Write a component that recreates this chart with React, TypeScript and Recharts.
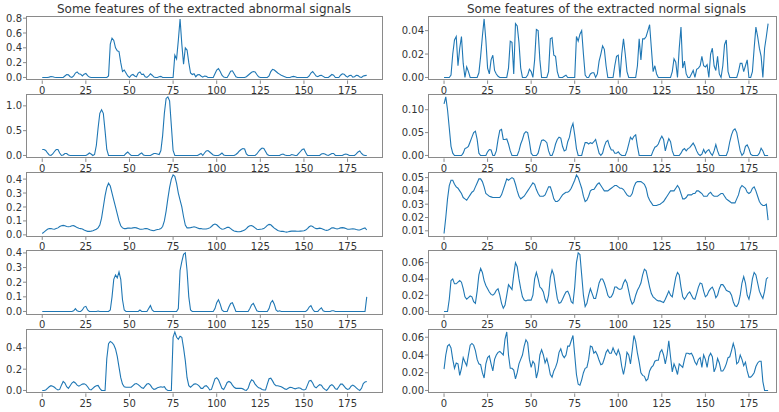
import React from 'react';
import { LineChart, Line, XAxis, YAxis, CartesianGrid } from 'recharts';

// ---------- data (feature index 0..186) ----------
const abnormal1 = [
  0,0,0,0,0.005,0.012,0.01,0.003,0,0,
  0,0,0,0.02,0.04,0.035,0.01,0,0.02,0.06,
  0.075,0.05,0.045,0.02,0.045,0.055,0.025,0.005,0,0,
  0,0,0,0,0,0,0,0,0.02,0.45,
  0.53,0.5,0.4,0.36,0.35,0.2,0.08,0.1,0.06,0.02,
  0,0.03,0.04,0.02,0.01,0.06,0.075,0.04,0.045,0.01,
  0,0.02,0.05,0.03,0.005,0,0,0.01,0.015,0,
  0,0,0,0,0,0,0.3,0.25,0.5,0.79,
  0.45,0.18,0.4,0.37,0.2,0.06,0.04,0.05,0.01,0.035,
  0.04,0.02,0.005,0.02,0.015,0,0,0,0,0.05,
  0.1,0.12,0.08,0.03,0.005,0,0,0.04,0.085,0.09,
  0.05,0.01,0,0,0,0,0,0.01,0.03,0.05,
  0.07,0.08,0.075,0.04,0.01,0,0,0,0,0,
  0.02,0.08,0.11,0.1,0.08,0.06,0.045,0.03,0.02,0.01,
  0,0,0,0.01,0.015,0.01,0,0,0,0,
  0,0,0,0.02,0.06,0.08,0.05,0.02,0.01,0.025,
  0.03,0.015,0,0,0,0.02,0.04,0.03,0,0,
  0,0.03,0.05,0.045,0.02,0.005,0.025,0.03,0.005,0.01,
  0.03,0.025,0.005,0,0.02,0.025,0.03,
];
const abnormal2 = [
  0.12,0.12,0.1,0.05,0.01,0,0.03,0.08,0.12,0.12,
  0.05,0,0.01,0.04,0.04,0.01,0,0,0,0,
  0,0,0,0,0,0,0.02,0.05,0.03,0,
  0.02,0.2,0.55,0.85,0.92,0.85,0.5,0.12,0,0,
  0,0,0,0,0,0,0,0,0.04,0.07,
  0.03,0,0,0,0,0,0.03,0.05,0.01,0,
  0,0,0,0.02,0.04,0.04,0.03,0.02,0.1,0.4,
  0.85,1.15,1.18,1.1,0.6,0.1,0,0,0,0,
  0,0,0,0,0,0,0,0,0,0,
  0.02,0.04,0,0.05,0.09,0.1,0.07,0.04,0.01,0,
  0,0,0.02,0.05,0.01,0,0,0,0,0,
  0,0.02,0.05,0.09,0.12,0.14,0.13,0.03,0,0,
  0,0,0,0.03,0.08,0.12,0.15,0.14,0.08,0.02,
  0,0,0,0,0,0,0,0.02,0.03,0.01,
  0,0,0,0.02,0.01,0,0,0.04,0.08,0.12,
  0.13,0.06,0,0,0,0,0,0,0,0,
  0.03,0.04,0.03,0.01,0,0.02,0.04,0.04,0,0,
  0,0,0,0.02,0.03,0.02,0,0,0,0,
  0.03,0.07,0.09,0.04,0.01,0,0,
];
const abnormal3 = [
  0.01,0.02,0.03,0.04,0.045,0.045,0.042,0.04,0.045,0.05,
  0.06,0.065,0.068,0.065,0.06,0.058,0.06,0.065,0.066,0.06,
  0.052,0.047,0.045,0.042,0.035,0.03,0.025,0.025,0.027,0.03,
  0.035,0.04,0.05,0.07,0.12,0.2,0.28,0.34,0.37,0.35,
  0.3,0.25,0.2,0.15,0.1,0.065,0.05,0.045,0.045,0.048,
  0.048,0.047,0.05,0.053,0.05,0.045,0.04,0.04,0.042,0.045,
  0.045,0.04,0.035,0.032,0.03,0.035,0.038,0.04,0.045,0.06,
  0.1,0.17,0.26,0.34,0.4,0.43,0.42,0.37,0.3,0.25,
  0.2,0.13,0.07,0.05,0.05,0.052,0.055,0.058,0.055,0.05,
  0.045,0.045,0.042,0.042,0.042,0.045,0.05,0.06,0.072,0.078,
  0.072,0.06,0.048,0.04,0.042,0.048,0.055,0.054,0.045,0.035,
  0.028,0.025,0.022,0.022,0.025,0.03,0.035,0.045,0.058,0.065,
  0.067,0.06,0.05,0.04,0.038,0.04,0.042,0.045,0.055,0.068,
  0.075,0.072,0.06,0.048,0.04,0.032,0.028,0.025,0.025,0.022,
  0.02,0.022,0.025,0.027,0.028,0.027,0.026,0.026,0.027,0.028,
  0.03,0.035,0.045,0.058,0.065,0.06,0.05,0.045,0.045,0.048,
  0.045,0.04,0.035,0.032,0.035,0.042,0.05,0.05,0.045,0.042,
  0.045,0.05,0.052,0.05,0.045,0.04,0.04,0.042,0.043,0.042,
  0.038,0.035,0.035,0.04,0.045,0.05,0.035,
];
const abnormal4 = [
  0,0,0,0,0,0,0,0,0,0,
  0,0,0,0,0,0,0,0,0.005,0.02,
  0.005,0,0,0.01,0.03,0.035,0.01,0,0,0,
  0,0,0.003,0,0,0,0,0,0,0.01,
  0.1,0.22,0.25,0.23,0.27,0.22,0.08,0.01,0,0,
  0,0,0,0,0,0,0.01,0,0,0,
  0,0.02,0.04,0.01,0,0,0,0,0,0,
  0,0,0,0,0,0,0,0,0.02,0.28,
  0.34,0.39,0.4,0.28,0.1,0.01,0,0,0,0,
  0,0,0,0,0,0,0,0,0,0.02,
  0.06,0.08,0.05,0.01,0,0,0,0.03,0.055,0.06,
  0.03,0,0,0,0,0,0,0,0,0.02,
  0.045,0.055,0.03,0.005,0,0,0,0,0,0,
  0.02,0.06,0.075,0.05,0.01,0,0.005,0,0,0,
  0,0,0,0,0,0,0,0,0,0,
  0,0,0.01,0.03,0.04,0.015,0,0,0,0.015,
  0.025,0.005,0,0,0,0,0.005,0.005,0,0,
  0,0,0,0,0,0,0,0,0,0,
  0,0,0,0,0,0,0.1,
];
const abnormal5 = [
  0,0,0.005,0.02,0.035,0.045,0.04,0.03,0.015,0.005,
  0.01,0.05,0.085,0.07,0.035,0.02,0.045,0.07,0.082,0.07,
  0.05,0.04,0.05,0.06,0.062,0.055,0.035,0.01,0.005,0.02,
  0.035,0.045,0.048,0.02,0,0,0,0.3,0.44,0.46,
  0.45,0.43,0.39,0.32,0.22,0.12,0.06,0.035,0.03,0.03,
  0.03,0.03,0.045,0.06,0.065,0.055,0.04,0.025,0.02,0.04,
  0.06,0.065,0.05,0.025,0.01,0.015,0.025,0.03,0.035,0.03,
  0.035,0.01,0,0,0,0.5,0.55,0.5,0.48,0.51,
  0.5,0.4,0.28,0.12,0.045,0.03,0.045,0.06,0.062,0.055,
  0.04,0.02,0.02,0.04,0.045,0.03,0.005,0.01,0.06,0.11,
  0.12,0.1,0.06,0.02,0.01,0.04,0.075,0.085,0.075,0.05,
  0.03,0.02,0.02,0.02,0.02,0.015,0.005,0,0.02,0.07,
  0.1,0.09,0.06,0.04,0.025,0.02,0.01,0.005,0.005,0.06,
  0.11,0.115,0.09,0.06,0.045,0.045,0.04,0.035,0.025,0.015,
  0.01,0.02,0.03,0.028,0.02,0.015,0.02,0.025,0.02,0.01,
  0.005,0.01,0.05,0.09,0.095,0.07,0.035,0.025,0.04,0.055,
  0.05,0.025,0.01,0,0.02,0.045,0.055,0.04,0.015,0.01,
  0.035,0.06,0.06,0.04,0.02,0.01,0.015,0.04,0.05,0.04,
  0.025,0.01,0,0.02,0.065,0.08,0.085,
];
const normal1 = [
  0,0,0,0,0.002,0.02,0.032,0.035,0.01,0.025,
  0.035,0.012,0,0.009,0.005,0,0,0,0,0,
  0.004,0.018,0.035,0.05,0.032,0.008,0.003,0.015,0.019,0.006,
  0.003,0.001,0,0,0,0,0,0.008,0.031,0.03,
  0.003,0.046,0.044,0.03,0.008,0,0,0,0.002,0.007,
  0.005,0,0.015,0.041,0.04,0.015,0,0,0,0,
  0.005,0.033,0.034,0.019,0.018,0.005,0,0,0,0.001,
  0.002,0,0,0,0,0,0.035,0.031,0.037,0.04,
  0.02,0.002,0,0,0.003,0.004,0.004,0,0.003,0.014,
  0.02,0.027,0.024,0.01,0,0,0,0,0.01,0.018,
  0.019,0,0.02,0.033,0.02,0.005,0,0,0,0,
  0,0.01,0.033,0.015,0.033,0.033,0.035,0.04,0.045,0.025,
  0.005,0.01,0.003,0,0,0,0,0,0,0,
  0,0.005,0.016,0.013,0,0.025,0.043,0.008,0.014,0.003,
  0,0,0.003,0.006,0,0.007,0.008,0.01,0.018,0.01,
  0.009,0.011,0,0.02,0.025,0.01,0.006,0.018,0.003,0,
  0.01,0.028,0.032,0.005,0,0,0,0,0,0.005,
  0.012,0.012,0.005,0.01,0.015,0,0,0.005,0.025,0.043,
  0.035,0.025,0.018,0,0.025,0.035,0.046,
];
const normal2 = [
  0.113,0.128,0.1,0.06,0.02,0.005,0,0,0,0,
  0,0.005,0.015,0.017,0.02,0.03,0.04,0.05,0.053,0.035,
  0.005,0,0,0,0,0.008,0.013,0.012,0,0,
  0.01,0.035,0.055,0.057,0.035,0.035,0.036,0.025,0.01,0,
  0,0,0,0.01,0.025,0.035,0.048,0.052,0.05,0.03,
  0.005,0,0,0,0.005,0.02,0.033,0.034,0.032,0.028,
  0.01,0,0,0.01,0.025,0.035,0.04,0.038,0.02,0.01,
  0.012,0.03,0.04,0.06,0.07,0.045,0.015,0,0,0,
  0.015,0.028,0.028,0.025,0.028,0.026,0.03,0.035,0.02,0.005,
  0,0.005,0.02,0.03,0.033,0.02,0.012,0.012,0.005,0.005,
  0.008,0.003,0,0,0,0.01,0.025,0.04,0.035,0.042,
  0.045,0.02,0,0,0,0,0,0,0,0,
  0.01,0.018,0.02,0.025,0.035,0.042,0.035,0.01,0.025,0.037,
  0.03,0.01,0,0,0,0,0.005,0.012,0.015,0.01,
  0.015,0.017,0.022,0.027,0.02,0.01,0.003,0,0.003,0.013,
  0.005,0.01,0.013,0.005,0,0.01,0.024,0.01,0,0,
  0,0,0,0.01,0.03,0.045,0.055,0.058,0.05,0.03,
  0.01,0,0.005,0.02,0.023,0.015,0.003,0,0,0,
  0,0.005,0.016,0.01,0,0,0,
];
const normal3 = [
  0.008,0.02,0.034,0.044,0.048,0.048,0.045,0.043,0.042,0.04,
  0.038,0.035,0.034,0.033,0.035,0.037,0.039,0.04,0.043,0.046,
  0.049,0.049,0.047,0.043,0.038,0.037,0.036,0.0355,0.035,0.035,
  0.035,0.035,0.035,0.037,0.041,0.045,0.049,0.048,0.049,0.05,
  0.049,0.045,0.04,0.036,0.034,0.035,0.036,0.038,0.04,0.042,
  0.044,0.046,0.045,0.041,0.038,0.036,0.036,0.036,0.037,0.04,
  0.043,0.043,0.039,0.034,0.032,0.032,0.033,0.035,0.037,0.038,
  0.039,0.039,0.04,0.042,0.045,0.048,0.052,0.05,0.046,0.042,
  0.036,0.032,0.033,0.036,0.04,0.041,0.041,0.043,0.045,0.046,
  0.044,0.042,0.04,0.04,0.04,0.041,0.042,0.043,0.044,0.044,
  0.043,0.042,0.042,0.041,0.039,0.037,0.036,0.036,0.038,0.043,
  0.046,0.047,0.047,0.047,0.046,0.045,0.042,0.036,0.033,0.031,
  0.029,0.029,0.029,0.0295,0.03,0.031,0.032,0.034,0.036,0.038,
  0.04,0.04,0.04,0.042,0.044,0.042,0.038,0.034,0.034,0.035,
  0.037,0.037,0.037,0.038,0.038,0.04,0.04,0.039,0.038,0.036,
  0.036,0.036,0.038,0.039,0.037,0.036,0.036,0.036,0.037,0.038,
  0.038,0.036,0.034,0.033,0.032,0.031,0.031,0.031,0.034,0.037,
  0.042,0.044,0.043,0.042,0.039,0.038,0.039,0.042,0.043,0.04,
  0.036,0.032,0.03,0.029,0.029,0.03,0.018,
];
const normal4 = [
  0,0,0,0.015,0.038,0.04,0.034,0.034,0.036,0.038,
  0.036,0.028,0.018,0.015,0.017,0.019,0.018,0.012,0.01,0.025,
  0.045,0.053,0.048,0.038,0.032,0.028,0.024,0.021,0.02,0.022,
  0.026,0.028,0.02,0.01,0.004,0.008,0.02,0.033,0.03,0.027,
  0.045,0.06,0.055,0.04,0.028,0.018,0.014,0.013,0.014,0.014,
  0.014,0.02,0.04,0.048,0.04,0.03,0.028,0.024,0.015,0.011,
  0.02,0.042,0.051,0.045,0.03,0.016,0.01,0.011,0.015,0.02,
  0.024,0.025,0.02,0.012,0.01,0.03,0.06,0.072,0.07,0.045,
  0.02,0.006,0.01,0.02,0.028,0.022,0.016,0.016,0.025,0.035,
  0.04,0.04,0.035,0.028,0.02,0.017,0.018,0.022,0.03,0.03,
  0.028,0.027,0.028,0.035,0.039,0.035,0.025,0.015,0.009,0.012,
  0.02,0.026,0.03,0.035,0.045,0.052,0.05,0.04,0.03,0.022,
  0.018,0.016,0.014,0.013,0.013,0.012,0.011,0.015,0.02,0.025,
  0.02,0.018,0.03,0.042,0.048,0.045,0.03,0.018,0.015,0.018,
  0.022,0.024,0.02,0.016,0.015,0.022,0.03,0.035,0.034,0.025,
  0.018,0.02,0.025,0.028,0.03,0.025,0.017,0.02,0.028,0.033,
  0.033,0.03,0.026,0.025,0.024,0.02,0.012,0.007,0.006,0.01,
  0.02,0.035,0.043,0.035,0.02,0.015,0.025,0.04,0.048,0.045,
  0.035,0.025,0.02,0.016,0.025,0.04,0.042,
];
const normal5 = [
  0.024,0.04,0.05,0.052,0.048,0.035,0.025,0.031,0.03,0.017,
  0.025,0.037,0.032,0.028,0.04,0.051,0.053,0.051,0.045,0.035,
  0.03,0.029,0.02,0.014,0.03,0.037,0.039,0.03,0.022,0.035,
  0.04,0.043,0.044,0.042,0.04,0.058,0.066,0.04,0.025,0.025,
  0.023,0.013,0.02,0.03,0.035,0.04,0.05,0.057,0.054,0.035,
  0.026,0.033,0.03,0.014,0.022,0.04,0.046,0.04,0.031,0.036,
  0.028,0.018,0.015,0.022,0.026,0.032,0.043,0.047,0.04,0.037,
  0.04,0.05,0.05,0.056,0.062,0.04,0.018,0.007,0.006,0.012,
  0.02,0.025,0.026,0.035,0.05,0.049,0.042,0.044,0.04,0.034,
  0.029,0.03,0.036,0.043,0.046,0.042,0.042,0.048,0.043,0.04,
  0.046,0.04,0.027,0.018,0.028,0.043,0.04,0.03,0.045,0.062,
  0.055,0.042,0.032,0.02,0.017,0.016,0.011,0.013,0.022,0.026,
  0.028,0.033,0.034,0.034,0.043,0.046,0.04,0.03,0.04,0.056,
  0.038,0.021,0.03,0.025,0.018,0.03,0.028,0.026,0.035,0.042,
  0.042,0.041,0.042,0.038,0.032,0.029,0.035,0.037,0.026,0.04,
  0.035,0.026,0.038,0.042,0.038,0.021,0.026,0.036,0.031,0.022,
  0.022,0.025,0.03,0.037,0.038,0.045,0.053,0.046,0.03,0.032,
  0.04,0.035,0.028,0.032,0.022,0.015,0.015,0.017,0.02,0.027,
  0.031,0.033,0.033,0.01,0,0,0,
];

const xTicks = [0, 25, 50, 75, 100, 125, 150, 175];
const ticksA1 = [0, 0.2, 0.4, 0.6, 0.8];
const ticksA2 = [0, 0.5, 1.0];
const ticksA3 = [0, 0.1, 0.2, 0.3, 0.4];
const ticksA4 = [0, 0.1, 0.2, 0.3, 0.4];
const ticksA5 = [0, 0.2, 0.4];
const ticksN1 = [0, 0.02, 0.04];
const ticksN2 = [0, 0.05, 0.1];
const ticksN3 = [0.01, 0.02, 0.03, 0.04, 0.05];
const ticksN4 = [0, 0.02, 0.04, 0.06];
const ticksN5 = [0, 0.02, 0.04, 0.06];

const titleLeft = 'Some features of the extracted abnormal signals';
const titleRight = 'Some features of the extracted normal signals';

// ---------- layout ----------
const FONT = "'DejaVu Sans', sans-serif";
const LINE = '#1f77b4';
const FRAME = '#8a8a8a';
const TEXT = '#333333';
const LEFT_X = 25.5, LEFT_W = 357;
const RIGHT_X = 428, RIGHT_W = 349;
const ROW_TOP = 15.8, ROW_STEP = 78.2, ROW_H = 64.4;
const LEFT_DOMAIN: [number, number] = [-9.3, 195.3];
const RIGHT_DOMAIN: [number, number] = [-9.2, 191.1];

function autoDomain(values: number[]): [number, number] {
  const mn = Math.min(...values);
  const mx = Math.max(...values);
  const r = mx - mn;
  return [mn - 0.05 * r, mx + 0.05 * r];
}

type PanelProps = {
  values: number[];
  left: number;
  top: number;
  width: number;
  xDomain: [number, number];
  yTicks: number[];
  digits: number;
};

function Panel({ values, left, top, width, xDomain, yTicks, digits }: PanelProps) {
  const ML = 36, MT = 8, MR = 4, XH = 22;
  const data = values.map((v, i) => ({ x: i, y: v }));
  const yDomain = autoDomain(values);
  return (
    <div style={{ position: 'absolute', left: left - ML, top: top - MT }}>
      <LineChart
        width={width + ML + MR}
        height={ROW_H + MT + XH}
        data={data}
        margin={{ top: MT, right: MR, left: 0, bottom: 0 }}
      >
        <CartesianGrid horizontal={false} vertical={false} fill="#ffffff" fillOpacity={1} />
        <XAxis
          dataKey="x"
          type="number"
          domain={xDomain}
          ticks={xTicks}
          interval={0}
          allowDataOverflow
          height={XH}
          axisLine={false}
          tickLine={{ stroke: FRAME }}
          tickSize={3.5}
          tickMargin={3}
          tick={{ fontSize: 10, fill: TEXT, fontFamily: FONT }}
        />
        <YAxis
          type="number"
          domain={yDomain}
          ticks={yTicks}
          interval={0}
          allowDataOverflow
          width={ML}
          axisLine={false}
          tickLine={{ stroke: FRAME }}
          tickSize={3}
          tickMargin={1}
          tickFormatter={(v: number) => v.toFixed(digits)}
          tick={{ fontSize: 10, fill: TEXT, fontFamily: FONT }}
        />
        <Line
          dataKey="y"
          type="linear"
          stroke={LINE}
          strokeWidth={1.1}
          dot={false}
          activeDot={false}
          isAnimationActive={false}
        />
      </LineChart>
      <div
        style={{
          position: 'absolute',
          left: ML,
          top: MT,
          width: width,
          height: ROW_H,
          border: `1px solid ${FRAME}`,
          boxSizing: 'border-box',
          pointerEvents: 'none',
        }}
      />
    </div>
  );
}

const leftSeries = [
  { values: abnormal1, ticks: ticksA1 },
  { values: abnormal2, ticks: ticksA2 },
  { values: abnormal3, ticks: ticksA3 },
  { values: abnormal4, ticks: ticksA4 },
  { values: abnormal5, ticks: ticksA5 },
];
const rightSeries = [
  { values: normal1, ticks: ticksN1 },
  { values: normal2, ticks: ticksN2 },
  { values: normal3, ticks: ticksN3 },
  { values: normal4, ticks: ticksN4 },
  { values: normal5, ticks: ticksN5 },
];

export default function App() {
  const panels: React.ReactNode[] = [];
  for (let r = 0; r < 5; r++) {
    const top = ROW_TOP + ROW_STEP * r;
    panels.push(
      <Panel key={`l${r}`} values={leftSeries[r].values} left={LEFT_X} top={top} width={LEFT_W}
        xDomain={LEFT_DOMAIN} yTicks={leftSeries[r].ticks} digits={1} />
    );
    panels.push(
      <Panel key={`r${r}`} values={rightSeries[r].values} left={RIGHT_X} top={top} width={RIGHT_W}
        xDomain={RIGHT_DOMAIN} yTicks={rightSeries[r].ticks} digits={2} />
    );
  }
  return (
    <div
      style={{
        position: 'absolute',
        left: 0,
        top: 0,
        width: 779,
        height: 412,
        background: '#fff',
        overflow: 'hidden',
        fontFamily: FONT,
      }}
    >
      <div style={{ position: 'absolute', left: LEFT_X, top: 1.6, width: LEFT_W, textAlign: 'center',
        fontSize: 12, lineHeight: '14px', color: TEXT, whiteSpace: 'nowrap' }}>{titleLeft}</div>
      <div style={{ position: 'absolute', left: RIGHT_X, top: 1.6, width: 357, textAlign: 'center',
        fontSize: 12, lineHeight: '14px', color: TEXT, whiteSpace: 'nowrap' }}>{titleRight}</div>
      {panels}
    </div>
  );
}
